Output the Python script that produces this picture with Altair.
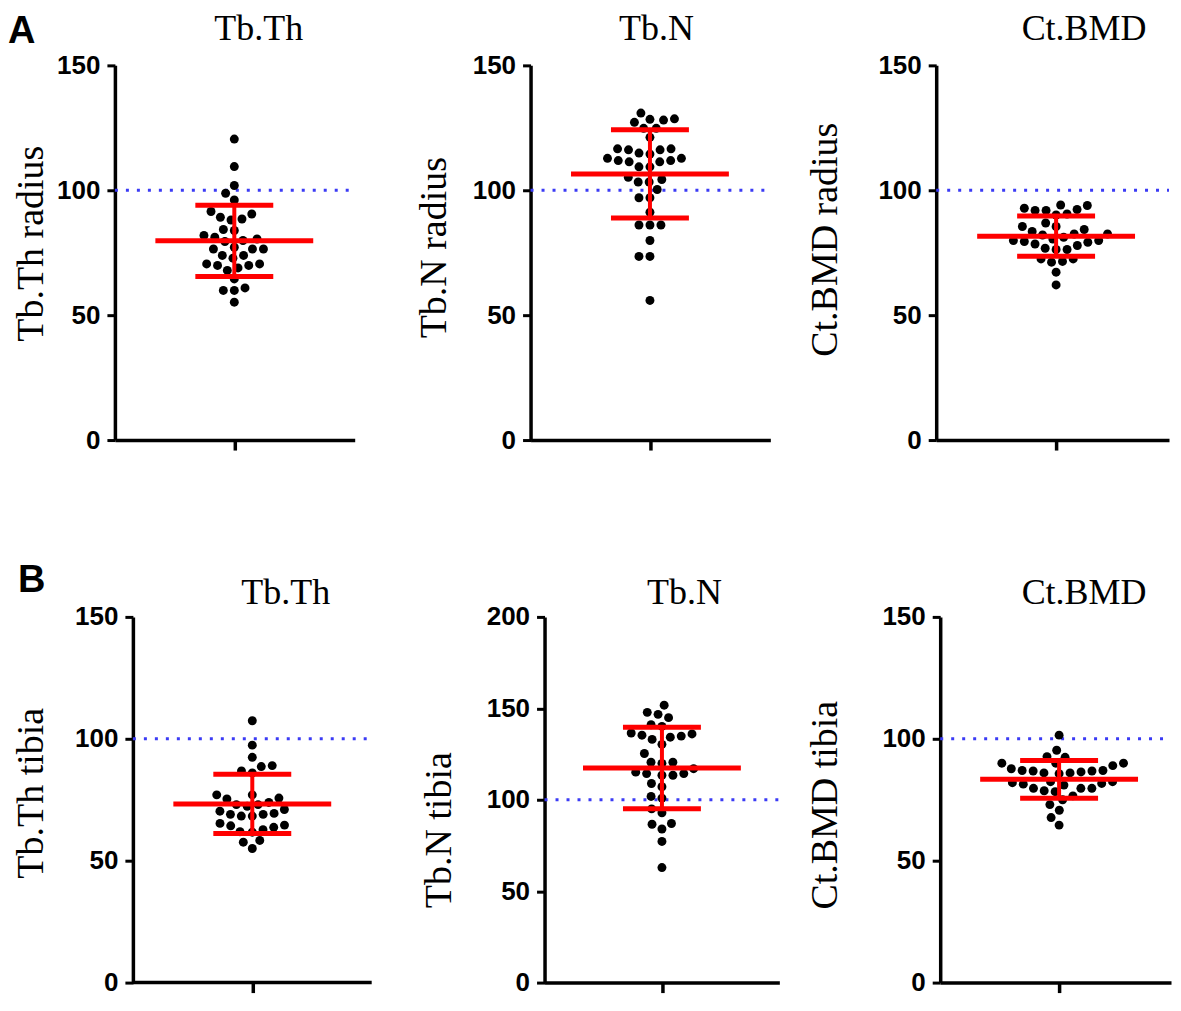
import math
import altair as alt
import pandas as pd

# ---------------- data ----------------
panel_titles = ["Tb.Th", "Tb.N", "Ct.BMD", "Tb.Th", "Tb.N", "Ct.BMD"]
y_titles = ["Tb.Th radius", "Tb.N radius", "Ct.BMD radius",
            "Tb.Th tibia", "Tb.N tibia", "Ct.BMD tibia"]
y_max = [150, 150, 150, 150, 200, 150]
y_ticks = [[0, 50, 100, 150], [0, 50, 100, 150], [0, 50, 100, 150],
           [0, 50, 100, 150], [0, 50, 100, 150, 200], [0, 50, 100, 150]]
ref_level = [100, 100, 100, 100, 100, 100]
row_letters = ["A", "B"]

tbth_radius = [120.5, 109.5, 101.9, 98.8, 96.1, 91.5, 90.5, 89.2, 88.5, 88.1,
               84.3, 83.9, 81.9, 80.5, 81.2, 79.9, 79.5, 76.5, 76.5, 77.2,
               76.5, 73.9, 72.8, 73.9, 70.5, 69.9, 68.9, 69.9, 70.5, 67.9,
               64.5, 59.9, 60.9, 59.9, 55.2]
tbn_radius = [130.9, 128.4, 128.1, 128.6, 127.2, 124.8, 124.8, 121.2, 116.6, 116.2,
              116.2, 116.6, 114.5, 114.9, 112.8, 112.8, 111.9, 111.9, 111.4, 111.4,
              109.4, 109.4, 105.2, 104.3, 103.3, 103.3, 100.3, 97.0, 97.0, 91.2,
              86.1, 86.1, 86.1, 79.9, 73.5, 73.5, 55.9]
ctbmd_radius = [94.1, 93.9, 92.3, 91.9, 91.9, 92.8, 90.1, 90.5, 86.9, 85.5,
                85.5, 84.3, 83.5, 82.5, 81.2, 82.1, 82.5, 80.5, 79.9, 79.2,
                78.5, 79.5, 79.9, 77.9, 76.3, 76.3, 76.8, 72.5, 71.2, 72.5,
                71.5, 67.2, 62.1]
tbth_tibia = [107.4, 97.4, 92.4, 88.6, 89.0, 86.0, 86.8, 77.0, 77.0, 75.3,
              75.7, 73.9, 73.0, 72.3, 73.0, 71.0, 70.3, 69.0, 68.3, 68.3,
              69.4, 69.0, 64.6, 63.7, 65.3, 62.7, 64.3, 61.9, 61.7, 58.3,
              57.6, 55.0]
tbn_tibia = [151.7, 147.8, 146.7, 144.9, 141.0, 140.1, 136.5, 135.3, 134.8, 133.0,
             134.2, 136.0, 130.3, 125.3, 120.5, 119.9, 120.5, 117.0, 115.1, 113.4,
             114.3, 114.3, 113.4, 108.9, 107.1, 101.8, 100.9, 95.0, 92.9, 87.0,
             86.6, 84.0, 77.2, 62.9]
ctbmd_tibia = [101.5, 95.3, 92.4, 92.7, 90.0, 90.0, 89.0, 90.0, 87.7, 86.8,
               86.8, 86.0, 85.7, 86.4, 86.0, 87.0, 87.0, 82.4, 81.7, 81.4,
               81.0, 82.0, 82.4, 79.7, 78.3, 79.7, 78.7, 79.7, 75.0, 76.6,
               73.0, 70.7, 67.7, 64.6]

values = [tbth_radius, tbn_radius, ctbmd_radius, tbth_tibia, tbn_tibia, ctbmd_tibia]

# ---------------- layout / style (pixels) ----------------
# Wv: visible x-axis length, shift: gap between group origin and y axis,
# cx: position of the x tick measured from the y axis, L/R: spacer extents.
GEOM = [
    dict(Wv=240, shift=0, H=375, L=107, R=2, cx=119.5, tx=144, ty=-25, ytx=-72, yty=178, lx=-107, ly=-22),
    dict(Wv=240, shift=0, H=375, L=174, R=2, cx=119.5, tx=126, ty=-25, ytx=-85, yty=182),
    dict(Wv=233, shift=0, H=375, L=164, R=0, cx=120, tx=148, ty=-25, ytx=-100, yty=174),
    dict(Wv=239, shift=18, H=366, L=107, R=2, cx=119.5, tx=171, ty=-13, ytx=-90, yty=176, lx=-97, ly=-25),
    dict(Wv=235, shift=0, H=366, L=171, R=2, cx=117.5, tx=140, ty=-13, ytx=-94, yty=213),
    dict(Wv=231, shift=0, H=366, L=159, R=0, cx=119, tx=144, ty=-13, ytx=-104, yty=188),
]
SPACER_TOP = -57
SPACER_BOTTOM = [392, 392, 392, 380, 380, 380]
ROW_SPACING = 103
BLUE = "#3b3bf5"
RED = "#ff0000"
DOT_D = 11.0
MEAN_HALF = 79
SD_HALF = 39
AXIS_W = 3.5
YTITLE_SIZE = 38


def swarm(vals, ppu, d=DOT_D):
    """Deterministic beeswarm: horizontal offsets (px) so dots do not overlap."""
    order = sorted(range(len(vals)), key=lambda k: vals[k])
    placed = []
    offs = [0.0] * len(vals)
    for k in order:
        y = vals[k] * ppu
        cands = [0.0]
        for px, py in placed:
            dy = abs(py - y)
            if dy < d:
                dx = math.sqrt(d * d - dy * dy)
                cands += [px + dx, px - dx]
        cands.sort(key=lambda c: (abs(c), c))
        for c in cands:
            if all((c - px) ** 2 + (y - py) ** 2 >= d * d - 1e-6 for px, py in placed):
                offs[k] = c
                break
        placed.append((offs[k], y))
    return offs


def panel(i, letter=None):
    g = GEOM[i]
    Wv, sh, H, cx = g["Wv"], g["shift"], g["H"], g["cx"]
    W = Wv + sh
    vals = values[i]
    offs = swarm(vals, H / y_max[i])
    df = pd.DataFrame({"v": vals, "off": offs})

    xsc = alt.Scale(domain=[-(cx + sh), Wv - cx], nice=False, zero=False)
    ysc = alt.Scale(domain=[0, y_max[i]], nice=False)
    xaxis = alt.Axis(values=[0], labels=False, grid=False, tickSize=10, tickWidth=AXIS_W,
                     tickColor="black", domain=(sh == 0), domainColor="black",
                     domainWidth=AXIS_W)
    yaxis = alt.Axis(values=y_ticks[i], grid=False, offset=-sh,
                     labelFont="Liberation Sans",
                     labelFontWeight="bold", labelFontSize=26, labelColor="black",
                     labelPadding=7, tickSize=8, tickWidth=3, tickColor="black",
                     domainColor="black", domainWidth=AXIS_W,
                     titleFont="Liberation Serif", titleFontSize=YTITLE_SIZE,
                     titleFontWeight="normal", titleColor="black",
                     titleX=g["ytx"], titleY=g["yty"], titleBaseline="alphabetic",
                     titleAngle=270, titleAlign="center")

    def Y(field):
        return alt.Y(field, type="quantitative", scale=ysc, axis=yaxis, title=y_titles[i])

    def XD(val):
        return alt.XDatum(val, scale=xsc, axis=xaxis, title=None)

    spacer = alt.Chart(pd.DataFrame({"s": [0]})).mark_rect(opacity=0).encode(
        x=alt.value(-g["L"]), x2=alt.value(W + g["R"]),
        y=alt.value(SPACER_TOP), y2=alt.value(SPACER_BOTTOM[i]))

    layers = [spacer]
    if sh:
        # x baseline starting at the (shifted) y axis
        base_line = alt.Chart(pd.DataFrame({"z": [0]})).mark_rule(
            color="black", strokeWidth=AXIS_W).encode(
            y=Y("z"), x=XD(-cx), x2=alt.X2Datum(Wv - cx))
        layers.append(base_line)

    ref = alt.Chart(pd.DataFrame({"r": [ref_level[i]]})).mark_rule(
        color=BLUE, strokeDash=[3, 8], strokeWidth=3).encode(
        y=Y("r"), x=XD(-cx), x2=alt.X2Datum(Wv - cx))

    pts = alt.Chart(df).mark_circle(size=80, color="black", opacity=1).encode(
        x=alt.X("off", type="quantitative", scale=xsc, axis=xaxis, title=None),
        y=Y("v"))

    stats = alt.Chart(df).transform_aggregate(
        m="mean(v)", s="stdev(v)"
    ).transform_calculate(lo="datum.m - datum.s", hi="datum.m + datum.s")

    mean_rule = stats.mark_rule(color=RED, strokeWidth=5).encode(
        y=Y("m"), x=XD(-MEAN_HALF), x2=alt.X2Datum(MEAN_HALF))
    caps = stats.transform_fold(["lo", "hi"], as_=["k", "yy"]).mark_rule(
        color=RED, strokeWidth=5).encode(
        y=Y("yy"), x=XD(-SD_HALF), x2=alt.X2Datum(SD_HALF))
    vbar = stats.mark_rule(color=RED, strokeWidth=4).encode(
        x=XD(0), y=Y("lo"), y2=alt.Y2("hi"))

    title = alt.Chart(pd.DataFrame({"t": [panel_titles[i]]})).mark_text(
        font="Liberation Serif", fontSize=36, color="black", align="center",
        baseline="alphabetic").encode(text="t:N", x=alt.value(g["tx"]), y=alt.value(g["ty"]))

    layers += [ref, pts, mean_rule, caps, vbar, title]
    if letter is not None:
        lab = alt.Chart(pd.DataFrame({"t": [letter]})).mark_text(
            font="Liberation Sans", fontWeight="bold", fontSize=38, color="black",
            align="left", baseline="alphabetic").encode(
            text="t:N", x=alt.value(g["lx"]), y=alt.value(g["ly"]))
        layers.append(lab)
    return alt.layer(*layers).properties(width=W, height=H)


rowA = alt.hconcat(panel(0, row_letters[0]), panel(1), panel(2), spacing=0)
rowB = alt.hconcat(panel(3, row_letters[1]), panel(4), panel(5), spacing=0)

chart = alt.vconcat(rowA, rowB, spacing=ROW_SPACING).properties(
    padding=0, background="white"
).configure_view(strokeWidth=0)

chart.save("out.html", embed_options={"renderer": "svg", "actions": False})
